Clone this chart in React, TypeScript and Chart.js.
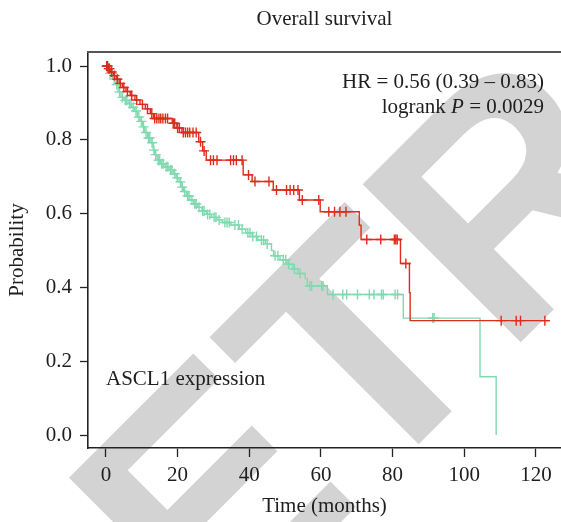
import React, { useEffect, useRef } from 'react';
import { Chart, registerables } from 'chart.js';

Chart.register(...registerables);

// ---- Data ----
const redTimes = [0, 0.6, 1.3, 2.1, 2.9, 3.7, 4.6, 5.6, 6.8, 8.1, 9.5, 11.0, 12.4, 13.3, 18.5, 19.8, 21.2, 25.9, 27.0, 28.0, 38.3, 40.8, 46.7, 54.0, 59.8, 70.7, 71.2, 82.2, 84.7, 84.9, 123.9];
const redSurvival = [1.0, 0.993, 0.984, 0.974, 0.964, 0.953, 0.942, 0.931, 0.92, 0.908, 0.896, 0.884, 0.871, 0.858, 0.845, 0.832, 0.82, 0.795, 0.77, 0.745, 0.705, 0.687, 0.664, 0.637, 0.605, 0.569, 0.53, 0.465, 0.386, 0.31, 0.31];
const redCensored = [0.2, 0.4, 0.8, 1.0, 1.6, 2.4, 3.2, 4.0, 5.0, 6.0, 7.2, 8.6, 10.2, 11.6, 12.8, 13.6, 14.2, 14.8, 15.3, 15.9, 16.6, 17.2, 18.8, 19.2, 20.0, 20.5, 21.6, 22.2, 22.8, 23.4, 24.3, 25.2, 26.4, 27.4, 29.2, 30.0, 31.0, 34.8, 35.6, 36.4, 38.0, 39.8, 41.6, 45.5, 47.6, 50.4, 51.4, 52.4, 53.6, 54.8, 59.4, 62.2, 63.8, 65.3, 67.0, 72.8, 76.7, 80.5, 80.9, 81.3, 83.7, 110.3, 114.5, 115.7, 122.5];

const greenTimes = [0, 1.0, 2.0, 2.8, 3.4, 4.2, 5.0, 6.2, 7.2, 8.0, 8.8, 9.5, 10.2, 10.8, 11.6, 12.6, 13.2, 13.6, 14.3, 15.3, 16.5, 17.6, 18.8, 19.6, 20.4, 21.0, 21.7, 22.5, 23.4, 24.5, 25.6, 26.8, 28.0, 29.5, 31.0, 32.5, 34.8, 37.2, 39.0, 40.8, 42.4, 44.5, 46.2, 46.8, 48.6, 50.8, 52.2, 53.6, 55.6, 56.2, 61.8, 83.0, 104.4, 108.9];
const greenSurvival = [1.0, 0.98, 0.965, 0.95, 0.93, 0.915, 0.907, 0.898, 0.888, 0.878, 0.862, 0.85, 0.835, 0.82, 0.805, 0.792, 0.772, 0.76, 0.745, 0.735, 0.727, 0.718, 0.708, 0.697, 0.686, 0.672, 0.66, 0.648, 0.637, 0.626, 0.617, 0.607, 0.598, 0.59, 0.583, 0.576, 0.569, 0.558, 0.548, 0.538, 0.528, 0.518, 0.5, 0.486, 0.475, 0.463, 0.45, 0.438, 0.424, 0.404, 0.381, 0.317, 0.158, 0.0];
const greenCensored = [0.3, 0.6, 1.2, 1.8, 2.3, 3.0, 3.8, 4.6, 5.4, 5.8, 6.6, 7.0, 7.6, 8.4, 9.2, 9.9, 10.5, 11.2, 11.9, 12.2, 12.9, 13.4, 13.9, 14.6, 15.0, 15.6, 16.0, 16.8, 17.3, 18.0, 18.4, 19.2, 19.9, 20.8, 21.3, 22.0, 22.8, 23.2, 24.0, 24.8, 25.2, 26.0, 27.0, 27.4, 28.4, 29.0, 30.2, 30.7, 31.6, 33.2, 33.8, 34.4, 36.0, 37.0, 38.0, 39.6, 40.2, 41.0, 42.0, 43.4, 44.0, 45.0, 47.2, 48.0, 49.5, 50.2, 51.0, 52.6, 54.2, 56.9, 57.4, 60.2, 60.6, 63.4, 66.1, 67.2, 70.2, 73.5, 74.8, 76.9, 77.4, 80.7, 81.4, 91.2, 91.6];

const xTickValues = [0, 20, 40, 60, 80, 100, 120];
const yTickValues = [0, 0.2, 0.4, 0.6, 0.8, 1.0];

const titleText = 'Overall survival';
const hrText = 'HR = 0.56 (0.39 \u2013 0.83)';
const pValueText = '0.0029';
const groupText = 'ASCL1 expression';
const xAxisText = 'Time (months)';
const yAxisText = 'Probability';
const watermarkText = 'RETRACTED';

const RED = '#DD2C1C';
const GREEN = '#80DAB0';
const SERIF = "'Liberation Serif', 'DejaVu Serif', serif";
const FONT_SIZE = 21;
const TEXT_COLOR = '#1e1e1e';

function survivalAt(times: number[], surv: number[], t: number): number {
  let s = surv[0];
  for (let i = 0; i < times.length; i++) {
    if (times[i] <= t) s = surv[i];
  }
  return s;
}

const textPlugin = {
  id: 'kmText',
  beforeDraw(chart: any) {
    const ctx = chart.ctx as CanvasRenderingContext2D;
    ctx.save();
    ctx.fillStyle = '#d3d3d3';
    ctx.font = "bold 325px 'Liberation Sans', Arial, sans-serif";
    ctx.textBaseline = 'alphabetic';
    ctx.translate(365, 498);
    ctx.rotate(-Math.PI / 4);
    const pre = ctx.measureText('RE').width;
    ctx.fillText(watermarkText, -pre, 0);
    ctx.restore();
  },
  afterDraw(chart: any) {
    const ctx = chart.ctx as CanvasRenderingContext2D;
    const ca = chart.chartArea;
    ctx.save();
    // top border
    ctx.strokeStyle = '#555555';
    ctx.lineWidth = 2;
    ctx.beginPath();
    ctx.moveTo(ca.left - 1, ca.top);
    ctx.lineTo(chart.width, ca.top);
    ctx.stroke();

    ctx.fillStyle = TEXT_COLOR;
    ctx.font = `${FONT_SIZE}px ${SERIF}`;
    ctx.textBaseline = 'alphabetic';
    ctx.textAlign = 'center';
    ctx.fillText(titleText, (ca.left + ca.right) / 2, 25);
    ctx.fillText(xAxisText, (ca.left + ca.right) / 2, 512);

    ctx.textAlign = 'right';
    const rx = 544;
    ctx.fillText(hrText, rx, 88);
    const part3 = ' = ' + pValueText;
    const w3 = ctx.measureText(part3).width;
    ctx.fillText(part3, rx, 113);
    ctx.font = `italic ${FONT_SIZE}px ${SERIF}`;
    const w2 = ctx.measureText('P').width;
    ctx.fillText('P', rx - w3, 113);
    ctx.font = `${FONT_SIZE}px ${SERIF}`;
    ctx.fillText('logrank ', rx - w3 - w2, 113);

    ctx.textAlign = 'left';
    ctx.fillText(groupText, 106, 385);

    ctx.translate(17.5, (ca.top + ca.bottom) / 2);
    ctx.rotate(-Math.PI / 2);
    ctx.textAlign = 'center';
    ctx.textBaseline = 'middle';
    ctx.fillText(yAxisText, 0, 0);
    ctx.restore();
  },
};

export default function App() {
  const canvasRef = useRef<HTMLCanvasElement | null>(null);

  useEffect(() => {
    const canvas = canvasRef.current;
    if (!canvas) return;

    const redLine = redTimes.map((t, i) => ({ x: t, y: redSurvival[i] }));
    const greenLine = greenTimes.map((t, i) => ({ x: t, y: greenSurvival[i] }));
    const redMarks = redCensored.map((t) => ({ x: t, y: survivalAt(redTimes, redSurvival, t) }));
    const greenMarks = greenCensored.map((t) => ({ x: t, y: survivalAt(greenTimes, greenSurvival, t) }));

    const chart = new Chart(canvas, {
      type: 'scatter',
      data: {
        datasets: [
          { data: redMarks, showLine: false, pointStyle: 'cross', pointRadius: 5, borderColor: RED, borderWidth: 1.4, backgroundColor: RED },
          { data: redLine, showLine: true, stepped: true, pointRadius: 0, borderColor: RED, borderWidth: 1.4, fill: false },
          { data: greenMarks, showLine: false, pointStyle: 'cross', pointRadius: 5, borderColor: GREEN, borderWidth: 1.4, backgroundColor: GREEN },
          { data: greenLine, showLine: true, stepped: true, pointRadius: 0, borderColor: GREEN, borderWidth: 1.4, fill: false },
        ],
      },
      options: {
        responsive: false,
        animation: false,
        devicePixelRatio: 1,
        layout: { autoPadding: false, padding: { top: 52, left: 0, right: 0, bottom: 0 } },
        plugins: { legend: { display: false }, tooltip: { enabled: false }, title: { display: false } },
        scales: {
          x: {
            type: 'linear',
            min: -5,
            max: 127,
            afterBuildTicks: (scale: any) => { scale.ticks = xTickValues.map((v) => ({ value: v })); },
            afterFit: (scale: any) => { scale.height = 74; scale.paddingLeft = 0; scale.paddingRight = 0; },
            ticks: { color: TEXT_COLOR, font: { family: SERIF, size: FONT_SIZE }, padding: 6, maxRotation: 0, autoSkip: false },
            grid: { display: true, drawOnChartArea: false, drawTicks: true, tickLength: 9, tickColor: '#222', tickWidth: 1.3 },
            border: { display: true, color: '#222', width: 1.6 },
          },
          y: {
            type: 'linear',
            min: -0.035,
            max: 1.038,
            afterBuildTicks: (scale: any) => { scale.ticks = yTickValues.map((v) => ({ value: v })); },
            afterFit: (scale: any) => { scale.width = 88; scale.paddingTop = 0; scale.paddingBottom = 0; },
            ticks: { color: TEXT_COLOR, font: { family: SERIF, size: FONT_SIZE }, padding: 8, callback: (v: any) => Number(v).toFixed(1) },
            grid: { display: true, drawOnChartArea: false, drawTicks: true, tickLength: 8, tickColor: '#222', tickWidth: 1.3 },
            border: { display: true, color: '#222', width: 1.6 },
          },
        },
      },
      plugins: [textPlugin],
    } as any);

    return () => chart.destroy();
  }, []);

  return (
    <div style={{ position: 'absolute', left: 0, top: 0, width: 561, height: 522, background: '#fff' }}>
      <canvas ref={canvasRef} width={561} height={522} style={{ display: 'block' }} />
    </div>
  );
}
